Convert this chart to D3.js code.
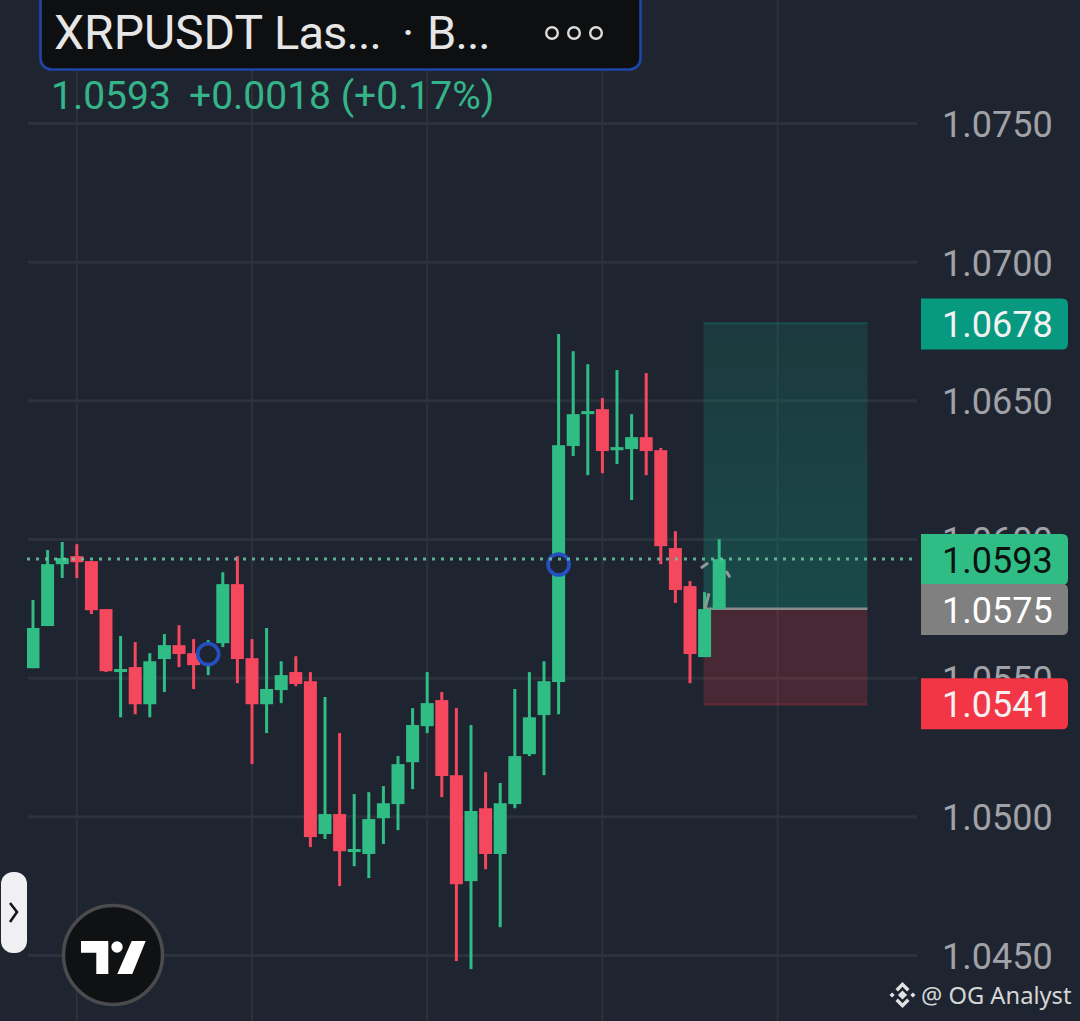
<!DOCTYPE html>
<html><head><meta charset="utf-8">
<script src="https://cdn.jsdelivr.net/npm/d3@7"></script>
<style>html,body{margin:0;padding:0;background:#1f2530;overflow:hidden}svg{display:block}text{font-family:Roboto,sans-serif}</style>
</head><body><svg id="c" width="1080" height="1021"></svg>
<script>
const opens=[1.05536,1.05688,1.05911,1.05940,1.05922,1.05749,1.05522,1.05540,1.05406,1.05569,1.05619,1.05590,1.05565,1.05626,1.05839,1.05572,1.05406,1.05457,1.05522,1.05489,1.04938,1.05010,1.04873,1.04866,1.04995,1.05046,1.05197,1.05327,1.05421,1.05150,1.04768,1.05031,1.04866,1.05046,1.05226,1.05367,1.05486,1.06337,1.06452,1.06470,1.06322,1.06326,1.06369,1.06322,1.05969,1.05832,1.05576,1.05749];
const highs=[1.05782,1.05962,1.05991,1.05983,1.05922,1.05749,1.05652,1.05630,1.05590,1.05659,1.05691,1.05641,1.05637,1.05882,1.05940,1.05641,1.05681,1.05561,1.05579,1.05522,1.05432,1.05302,1.05082,1.05089,1.05111,1.05219,1.05392,1.05522,1.05450,1.05392,1.05331,1.05161,1.05122,1.05461,1.05522,1.05561,1.06741,1.06679,1.06632,1.06510,1.06611,1.06452,1.06600,1.06330,1.06030,1.05850,1.05810,1.06001];
const lows=[1.05536,1.05688,1.05861,1.05861,1.05731,1.05522,1.05359,1.05370,1.05359,1.05450,1.05540,1.05461,1.05511,1.05612,1.05482,1.05190,1.05302,1.05410,1.05471,1.04891,1.04920,1.04750,1.04822,1.04779,1.04902,1.04952,1.05100,1.05302,1.05071,1.04480,1.04451,1.04811,1.04602,1.05031,1.05219,1.05150,1.05370,1.06301,1.06232,1.06239,1.06272,1.06142,1.06232,1.05911,1.05771,1.05482,1.05576,1.05749];
const closes=[1.05681,1.05911,1.05933,1.05918,1.05745,1.05525,1.05533,1.05406,1.05561,1.05619,1.05587,1.05547,1.05608,1.05839,1.05569,1.05406,1.05461,1.05511,1.05479,1.04927,1.05010,1.04876,1.04884,1.04992,1.05049,1.05190,1.05331,1.05410,1.05147,1.04757,1.05021,1.04866,1.05049,1.05219,1.05359,1.05489,1.06340,1.06452,1.06463,1.06319,1.06333,1.06369,1.06319,1.05976,1.05818,1.05587,1.05749,1.05929];
const priceTicks=[1.045,1.05,1.055,1.06,1.065,1.07,1.075];
const timeGrid=[3,15,27,39,51];
const lastPrice=1.0593, entryPrice=1.0575, targetPrice=1.0678, stopPrice=1.05405;
const priceTags=[["1.0678",1.0678,"#089981","#f2f2f2"],["1.0593",1.0593,"#2fbd85","#0b1210"],["1.0575",1.0575,"#808080","#ffffff"],["1.0541",1.0541,"#f23645","#f4f0f2"]];
const markers=[[12,1.05587],[36,1.0591]];
const boxRange=[46,57.15];

const svg=d3.select("#c");
const y=d3.scaleLinear().domain([1.045,1.075]).range([955.5,123.5]);
const x=d3.scaleLinear().domain([0,47]).range([33,719.2]);
const defs=svg.append("defs");
defs.append("clipPath").attr("id","plot").append("rect").attr("x",27).attr("y",0).attr("width",890).attr("height",1021);
const gg=defs.append("linearGradient").attr("id","tp").attr("x1",0).attr("x2",0).attr("y1",0).attr("y2",1);
gg.append("stop").attr("offset",0).attr("stop-color","#0b9c82").attr("stop-opacity",.17);
gg.append("stop").attr("offset",1).attr("stop-color","#0b9c82").attr("stop-opacity",.3);

// grid
const grid="#2c323c";
svg.append("g").selectAll("line").data(priceTicks).join("line")
 .attr("x1",28).attr("x2",917).attr("y1",d=>y(d)).attr("y2",d=>y(d)).attr("stroke",grid).attr("stroke-width",3);
svg.append("g").selectAll("line").data(timeGrid).join("line")
 .attr("x1",d=>x(d)).attr("x2",d=>x(d)).attr("y1",0).attr("y2",1021).attr("stroke",grid).attr("stroke-width",2);

// position tool
const bx0=x(boxRange[0])-1, bx1=x(boxRange[1]);
svg.append("rect").attr("x",bx0).attr("width",bx1-bx0).attr("y",y(targetPrice)).attr("height",y(entryPrice)-y(targetPrice)).attr("fill","url(#tp)");
svg.append("line").attr("x1",bx0).attr("x2",bx1).attr("y1",y(targetPrice)).attr("y2",y(targetPrice)).attr("stroke","#0b9c82").attr("stroke-opacity",.3).attr("stroke-width",2);
svg.append("rect").attr("x",bx0).attr("width",bx1-bx0).attr("y",y(entryPrice)).attr("height",y(stopPrice)-y(entryPrice)).attr("fill","#f23645").attr("fill-opacity",.2);
svg.append("line").attr("x1",bx0).attr("x2",bx1).attr("y1",y(stopPrice)).attr("y2",y(stopPrice)).attr("stroke","#f23645").attr("stroke-opacity",.25).attr("stroke-width",2);
svg.append("line").attr("x1",bx0).attr("x2",bx1).attr("y1",y(entryPrice)).attr("y2",y(entryPrice)).attr("stroke","#8b8b8b").attr("stroke-width",2.5);

// candles
const col=i=>closes[i]>=opens[i]?"#2fbd85":"#f5475e";
const idx=d3.range(opens.length);
const cg=svg.append("g").attr("clip-path","url(#plot)");
cg.selectAll("line.w").data(idx).join("line").attr("class","w")
 .attr("x1",i=>x(i)).attr("x2",i=>x(i)).attr("y1",i=>y(highs[i])).attr("y2",i=>y(lows[i])).attr("stroke",col).attr("stroke-width",3);
cg.selectAll("rect").data(idx).join("rect")
 .attr("x",i=>x(i)-6.5).attr("width",13)
 .attr("y",i=>y(Math.max(opens[i],closes[i])))
 .attr("height",i=>Math.max(3,Math.abs(y(opens[i])-y(closes[i])))).attr("fill",col);

// arrow fragments
const frag=[[45.75,1.05897,46.24,1.05915],[47.47,1.05886,47.74,1.05864],[46.03,1.05752,46.3,1.05806]];
svg.append("g").selectAll("line").data(frag).join("line")
 .attr("x1",d=>x(d[0])).attr("y1",d=>y(d[1])).attr("x2",d=>x(d[2])).attr("y2",d=>y(d[3]))
 .attr("stroke","#8f9a97").attr("stroke-width",3);

// markers
svg.append("g").selectAll("circle").data(markers).join("circle")
 .attr("cx",d=>x(d[0])).attr("cy",d=>y(d[1])).attr("r",10.5).attr("fill","#1f2530").attr("stroke","#2450c4").attr("stroke-width",3.6);

// last price line
svg.append("line").attr("x1",27).attr("x2",916).attr("y1",y(lastPrice)).attr("y2",y(lastPrice))
 .attr("stroke","#6cc5a5").attr("stroke-opacity",.85).attr("stroke-width",3).attr("stroke-dasharray","3 6");

// axis
const axis=d3.axisRight(y).tickValues(priceTicks).tickSize(0).tickPadding(0).tickFormat(d3.format(".4f"));
const ag=svg.append("g").attr("transform","translate(942,0)").call(axis);
ag.select(".domain").remove();
ag.selectAll("text").attr("font-family","Roboto,sans-serif").attr("font-size",36).attr("fill","#a0a2a7").attr("dy",".36em");

// price tags
const tagPath=(l,t,r,b,rad)=>`M${l},${t}H${r-rad}Q${r},${t} ${r},${t+rad}V${b-rad}Q${r},${b} ${r-rad},${b}H${l}Z`;
const tg=svg.append("g").selectAll("g").data(priceTags).join("g");
tg.append("path").attr("d",d=>tagPath(921,y(d[1])-24.8,1068,y(d[1])+26.2,6)).attr("fill",d=>d[2]);
tg.append("text").attr("x",942).attr("y",d=>y(d[1])+1).attr("dy",".36em").attr("font-size",36).attr("fill",d=>d[3]).text(d=>d[0]);

// header
svg.append("rect").attr("x",40.5).attr("y",-12).attr("width",600).attr("height",81.5).attr("rx",11).attr("fill","#0e0f11").attr("stroke","#1f45a8").attr("stroke-width",2.6);
const ht=(t,xp,fs,ls)=>svg.append("text").attr("x",xp).attr("y",49).attr("font-size",fs).attr("letter-spacing",ls).attr("fill","#e6e6e6").text(t);
ht("XRPUSDT",54,48,0); ht("Las...",274,47,-.9); ht("·",402,47,0); ht("B...",427,47,-.9);
svg.append("g").selectAll("circle").data([552,574,596]).join("circle").attr("cx",d=>d).attr("cy",33).attr("r",5.8).attr("fill","none").attr("stroke","#dcdcdc").attr("stroke-width",2.4);
const vt=(t,xp)=>svg.append("text").attr("x",xp).attr("y",109).attr("font-size",39).attr("fill","#35b489").text(t);
vt("1.0593",51); vt("+0.0018 (+0.17%)",189);

// side handle
svg.append("rect").attr("x",1).attr("y",872).attr("width",26).attr("height",81).attr("rx",12).attr("fill","#f0f0f3");
svg.append("path").attr("d","M10,903L17,912L10,922").attr("fill","none").attr("stroke","#15151a").attr("stroke-width",2.6);

// logo
svg.append("circle").attr("cx",113).attr("cy",955).attr("r",49.5).attr("fill","#101113").attr("stroke","#4b4b4e").attr("stroke-width",3.5);
svg.append("path").attr("d","M81,941H108.3V974H96.3V952.7H81Z M131.7,941H145.7L132.3,974H117.3Z").attr("fill","#fff");
svg.append("circle").attr("cx",117).attr("cy",947).attr("r",5.7).attr("fill","#fff");

// watermark
const wm=svg.append("g").attr("fill","#e2e2e2").attr("transform","translate(902.5,995)");
wm.append("path").attr("d","M0,-4.6L4.6,0L0,4.6L-4.6,0Z");
wm.append("path").attr("d","M0,-13L7,-6L4.6,-3.6L0,-8.2L-4.6,-3.6L-7,-6Z M0,13L7,6L4.6,3.6L0,8.2L-4.6,3.6L-7,6Z");
wm.append("path").attr("d","M-13,0L-10.4,-2.6L-7.8,0L-10.4,2.6Z M13,0L10.4,-2.6L7.8,0L10.4,2.6Z");
svg.append("text").attr("x",921).attr("y",1004).attr("font-size",23.7).attr("fill","#d4d5d6").style("font-family","'Noto Sans',sans-serif").text("@ OG Analyst");
</script></body></html>
